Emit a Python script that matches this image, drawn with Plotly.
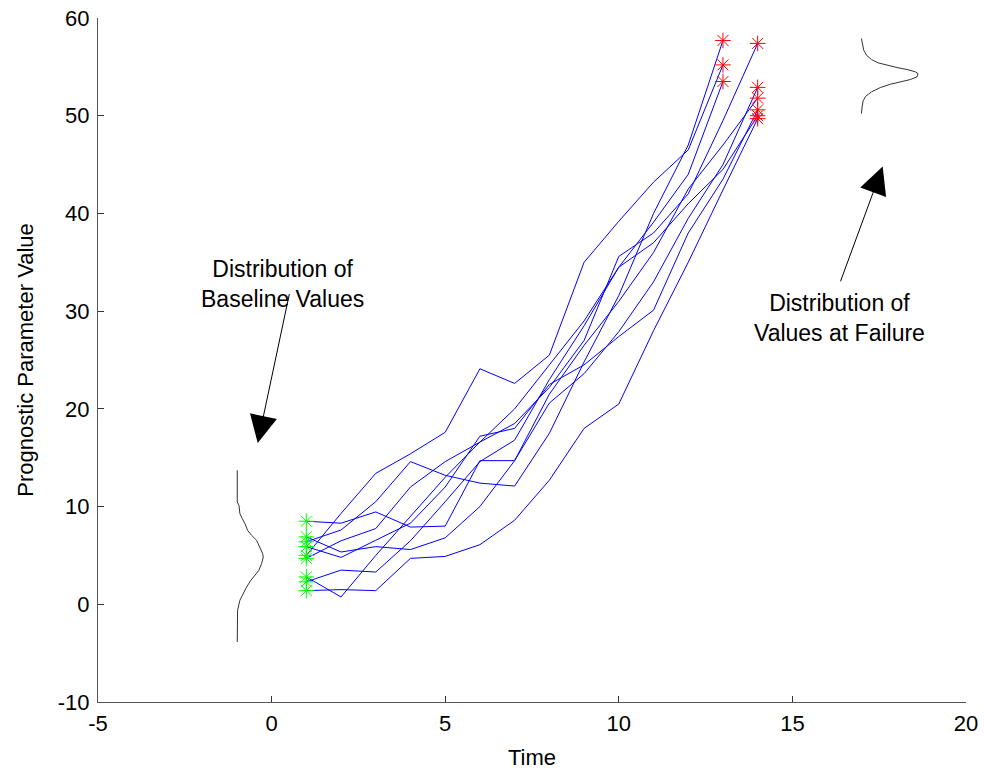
import plotly.graph_objects as go

# Time steps at which each unit's prognostic parameter was recorded
time_to_13 = list(range(1, 14))
time_to_14 = list(range(1, 15))

# Degradation trajectories (prognostic parameter value per time step)
unit_a = [5.0, 9.3, 13.4, 15.4, 17.6, 24.1, 22.6, 25.5, 35.0, 39.2, 43.2, 46.5, 55.2]
unit_b = [6.4, 7.6, 10.5, 14.6, 13.2, 12.4, 12.1, 17.5, 24.8, 31.6, 40.0, 47.0, 57.7]
unit_c = [2.3, 3.5, 3.3, 6.5, 10.5, 14.6, 16.8, 23.0, 28.5, 34.5, 39.1, 44.0, 53.5]
unit_d = [2.8, 0.75, 5.0, 9.0, 13.0, 16.6, 18.5, 22.2, 27.0, 35.6, 38.0, 42.0, 49.5, 57.4]
unit_e = [1.4, 1.5, 1.4, 4.7, 4.9, 6.1, 8.6, 12.7, 18.0, 20.5, 28.0, 35.0, 42.4, 49.7]
unit_f = [6.9, 5.35, 5.9, 5.6, 6.8, 10.0, 14.7, 20.6, 23.6, 27.9, 33.0, 39.5, 45.0, 52.9]
unit_g = [5.9, 4.8, 6.55, 8.3, 12.0, 17.2, 18.0, 22.5, 24.5, 27.4, 30.1, 38.0, 43.5, 50.6]
unit_h = [8.5, 8.3, 9.45, 7.9, 8.0, 14.7, 14.7, 21.5, 26.5, 31.0, 36.0, 42.5, 47.0, 51.8]
unit_i = [4.7, 6.5, 7.75, 12.0, 14.6, 16.6, 20.0, 24.5, 29.0, 34.5, 37.0, 41.0, 44.5, 50.0]

units = [
    (time_to_13, unit_a), (time_to_13, unit_b), (time_to_13, unit_c),
    (time_to_14, unit_d), (time_to_14, unit_e), (time_to_14, unit_f),
    (time_to_14, unit_g), (time_to_14, unit_h), (time_to_14, unit_i),
]

# Density of baseline values, drawn sideways left of the y range
baseline_y = [13.72, 10.47, 10.13, 9.28, 8.77, 8.26, 7.57, 7.06, 6.55, 5.87, 5.19,
              4.84, 4.16, 3.48, 2.97, 2.46, 1.77, 1.09, 0.41, -0.61, -3.86]
baseline_x = [-0.989, -0.989, -0.941, -0.913, -0.845, -0.769, -0.692, -0.576, -0.432,
              -0.336, -0.259, -0.240, -0.288, -0.365, -0.480, -0.596, -0.720, -0.816,
              -0.913, -0.980, -0.989]

# Density of values at failure, drawn sideways right of the trajectories
failure_y = [57.90, 57.39, 56.70, 56.19, 55.75, 55.41, 55.17, 54.93, 54.73, 54.49, 54.32,
             53.97, 53.70, 53.46, 53.22, 52.88, 52.44, 52.00, 51.52, 50.90, 50.22]
failure_x = [16.988, 17.017, 17.056, 17.133, 17.277, 17.469, 17.723, 18.012, 18.300,
             18.540, 18.617, 18.588, 18.396, 18.108, 17.819, 17.531, 17.277, 17.114,
             17.037, 17.008, 16.988]

x_ticks = [-5, 0, 5, 10, 15, 20]
y_ticks = [-10, 0, 10, 20, 30, 40, 50, 60]
x_tick_text = ["-5", "0", "5", "10", "15", "20"]
y_tick_text = ["-10", "0", "10", "20", "30", "40", "50", "60"]

FONT = "Liberation Sans, Arial, sans-serif"
FS = 22
FS_NOTE = 23

fig = go.Figure()

for t, v in units:
    fig.add_trace(go.Scatter(x=t, y=v, mode="lines",
                             line=dict(color="rgb(0,0,255)", width=1),
                             showlegend=False, hoverinfo="skip"))

fig.add_trace(go.Scatter(
    x=[t[0] for t, v in units], y=[v[0] for t, v in units], mode="markers",
    marker=dict(symbol="asterisk-open", size=13, color="rgb(0,255,0)",
                line=dict(color="rgb(0,255,0)", width=1)),
    showlegend=False))
fig.add_trace(go.Scatter(
    x=[t[-1] for t, v in units], y=[v[-1] for t, v in units], mode="markers",
    marker=dict(symbol="asterisk-open", size=13, color="rgb(255,0,0)",
                line=dict(color="rgb(255,0,0)", width=1)),
    showlegend=False))

fig.add_trace(go.Scatter(x=baseline_x, y=baseline_y, mode="lines",
                         line=dict(color="#333333", width=1), showlegend=False))
fig.add_trace(go.Scatter(x=failure_x, y=failure_y, mode="lines",
                         line=dict(color="#333333", width=1), showlegend=False))

# Callout arrows pointing at the two distributions
arrow_style = dict(showarrow=True, arrowhead=2, arrowsize=5.5, arrowwidth=1,
                   arrowcolor="black", axref="x", ayref="y", text="")
fig.add_annotation(x=-0.4, y=16.5, ax=0.52, ay=31.9, **arrow_style)
fig.add_annotation(x=17.6, y=44.8, ax=16.37, ay=32.9, **arrow_style)

fig.add_annotation(x=0.32, y=32.8, text="Distribution of<br>Baseline Values",
                   showarrow=False, font=dict(family=FONT, size=FS_NOTE, color="black"),
                   align="center")
fig.add_annotation(x=16.37, y=29.3, text="Distribution of<br>Values at Failure",
                   showarrow=False, font=dict(family=FONT, size=FS_NOTE, color="black"),
                   align="center")

axis_common = dict(showgrid=False, zeroline=False, showline=True, linecolor="#555555",
                   linewidth=1, ticks="inside", ticklen=6, tickcolor="#333333",
                   tickfont=dict(family=FONT, size=FS, color="black"), mirror=False,
                   automargin=False)

fig.update_xaxes(range=[-5, 20], tickvals=x_ticks, ticktext=x_tick_text,
                 ticklabelstandoff=2,
                 title=dict(text="Time", font=dict(family=FONT, size=FS, color="black"),
                            standoff=14),
                 **axis_common)
fig.update_yaxes(range=[-10, 60], tickvals=y_ticks, ticktext=y_tick_text,
                 ticklabelstandoff=3,
                 title=dict(text="Prognostic Parameter Value",
                            font=dict(family=FONT, size=FS, color="black"), standoff=18),
                 **axis_common)

fig.update_layout(width=984, height=773, margin=dict(l=98, r=18, t=18, b=71),
                  plot_bgcolor="white", paper_bgcolor="white",
                  font=dict(family=FONT, size=FS, color="black"))

fig.write_html("out.html")
